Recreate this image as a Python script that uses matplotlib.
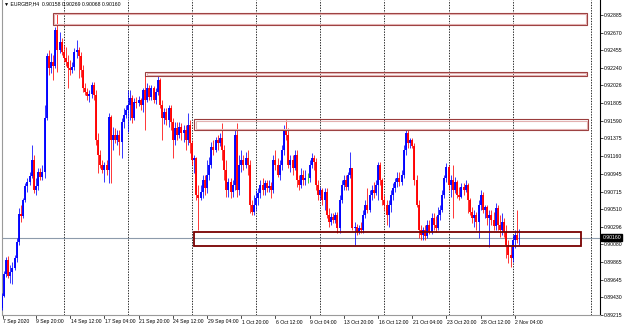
import numpy as np
import matplotlib.pyplot as plt
import matplotlib.transforms as mtransforms
from matplotlib.patches import Rectangle

# ------------------------------------------------------------------
# EURGBP H4 candles (price x 10^4), bar 0 = 7 Sep 2020 00:00
# ------------------------------------------------------------------
symbol = "EURGBP,H4"

opens = [
    8925, 8930, 8945, 8972, 8989, 8969, 8974, 8979, 8991, 9011,
    9045, 9043, 9062, 9079, 9084, 9092, 9111, 9074, 9079, 9096,
    9090, 9096, 9162, 9238, 9224, 9231, 9226, 9270, 9246, 9255,
    9243, 9236, 9231, 9224, 9221, 9225, 9243, 9246, 9238, 9221,
    9199, 9194, 9189, 9192, 9203, 9191, 9136, 9117, 9105, 9099,
    9105, 9099, 9164, 9136, 9142, 9136, 9142, 9133, 9158, 9166,
    9172, 9178, 9187, 9162, 9182, 9181, 9185, 9178, 9197, 9185,
    9199, 9188, 9199, 9185, 9194, 9209, 9178, 9162, 9170, 9160,
    9175, 9158, 9136, 9150, 9142, 9151, 9144, 9148, 9136, 9154,
    9132, 9111, 9114, 9068, 9065, 9072, 9087, 9077, 9093, 9105,
    9127, 9123, 9136, 9132, 9138, 9123, 9099, 9074, 9084, 9072,
    9081, 9142, 9074, 9105, 9111, 9105, 9114, 9105, 9056, 9047,
    9056, 9065, 9071, 9081, 9074, 9083, 9077, 9079, 9074, 9111,
    9105, 9093, 9105, 9123, 9148, 9142, 9105, 9111, 9101, 9117,
    9087, 9081, 9093, 9087, 9089, 9089, 9105, 9114, 9109, 9081,
    9068, 9074, 9062, 9072, 9044, 9035, 9041, 9038, 9044, 9028,
    9062, 9081, 9087, 9078, 9093, 9101, 9028, 9029, 9023, 9028,
    9025, 9044, 9056, 9050, 9068, 9074, 9071, 9081, 9105, 9087,
    9062, 9056, 9044, 9056, 9068, 9077, 9084, 9089, 9084, 9093,
    9123, 9144, 9132, 9136, 9128, 9087, 9056, 9025, 9019, 9025,
    9018, 9031, 9023, 9040, 9031, 9028, 9044, 9050, 9068, 9089,
    9103, 9081, 9087, 9074, 9084, 9068, 9066, 9078, 9074, 9081,
    9062, 9047, 9040, 9044, 9035, 9056, 9068, 9050, 9054, 9040,
    9044, 9038, 9030, 9052, 9031, 9025, 9035, 9023, 9007, 8995,
    8991, 9013, 9019, 9015.8,
]
highs = [
    8934, 8948, 8975, 8992, 8994, 8983, 8986, 8995, 9016, 9052,
    9056, 9065, 9083, 9089, 9096, 9129, 9117, 9089, 9101, 9101,
    9105, 9178, 9242, 9246, 9242, 9240, 9274, 9291, 9268, 9260,
    9252, 9249, 9240, 9233, 9231, 9248, 9258, 9249, 9243, 9227,
    9205, 9199, 9197, 9207, 9207, 9197, 9144, 9123, 9111, 9109,
    9111, 9169, 9166, 9151, 9150, 9148, 9148, 9162, 9175, 9178,
    9197, 9197, 9191, 9187, 9188, 9189, 9187, 9199, 9218, 9205,
    9203, 9203, 9202, 9199, 9214, 9211, 9185, 9175, 9175, 9178,
    9178, 9162, 9158, 9158, 9158, 9156, 9154, 9154, 9169, 9160,
    9136, 9117, 9115, 9081, 9081, 9093, 9093, 9111, 9115, 9133,
    9136, 9139, 9142, 9144, 9156, 9129, 9111, 9089, 9089, 9087,
    9148, 9156, 9117, 9123, 9117, 9121, 9123, 9111, 9062, 9068,
    9074, 9077, 9087, 9089, 9087, 9087, 9087, 9084, 9117, 9123,
    9114, 9111, 9129, 9154, 9160, 9150, 9117, 9117, 9123, 9123,
    9093, 9101, 9099, 9099, 9095, 9111, 9120, 9117, 9114, 9087,
    9078, 9077, 9077, 9077, 9052, 9046, 9046, 9047, 9047, 9068,
    9087, 9093, 9093, 9096, 9121, 9101, 9035, 9033, 9031, 9035,
    9050, 9062, 9077, 9074, 9081, 9084, 9087, 9109, 9109, 9089,
    9068, 9062, 9062, 9074, 9083, 9089, 9096, 9096, 9099, 9129,
    9148, 9148, 9138, 9138, 9132, 9093, 9062, 9031, 9029, 9031,
    9038, 9038, 9046, 9046, 9043, 9054, 9056, 9074, 9093, 9107,
    9105, 9093, 9105, 9090, 9087, 9078, 9083, 9083, 9087, 9083,
    9065, 9054, 9050, 9047, 9062, 9074, 9072, 9056, 9056, 9050,
    9050, 9047, 9058, 9056, 9044, 9046, 9040, 9031, 9013, 9007,
    9019, 9025, 9050, 9026.9,
]
lows = [
    8923, 8927, 8943, 8968, 8967, 8960, 8959, 8976, 8986, 9007,
    9035, 9040, 9060, 9072, 9081, 9089, 9071, 9068, 9074, 9087,
    9087, 9089, 9160, 9215, 9218, 9209, 9224, 9219, 9242, 9240,
    9231, 9226, 9199, 9215, 9218, 9221, 9236, 9211, 9213, 9194,
    9191, 9185, 9182, 9187, 9185, 9129, 9095, 9101, 9095, 9084,
    9093, 9083, 9083, 9123, 9132, 9129, 9117, 9114, 9150, 9162,
    9145, 9160, 9156, 9160, 9175, 9177, 9172, 9170, 9148, 9182,
    9185, 9185, 9181, 9180, 9191, 9175, 9136, 9155, 9154, 9151,
    9148, 9114, 9129, 9136, 9138, 9136, 9133, 9123, 9129, 9120,
    9105, 9095, 9062, 9025, 9062, 9065, 9068, 9071, 9087, 9101,
    9117, 9121, 9123, 9128, 9111, 9087, 9066, 9066, 9065, 9066,
    9074, 9066, 9068, 9096, 9099, 9101, 9093, 9046, 9044, 9044,
    9050, 9056, 9065, 9068, 9068, 9072, 9072, 9065, 9071, 9099,
    9090, 9087, 9099, 9117, 9136, 9101, 9096, 9093, 9099, 9078,
    9074, 9077, 9081, 9081, 9083, 9084, 9101, 9099, 9074, 9062,
    9062, 9056, 9050, 9040, 9029, 9031, 9034, 9034, 9022, 9022,
    9058, 9074, 9074, 9074, 9089, 9025, 9007, 9019, 9020, 9022,
    9022, 9040, 9046, 9047, 9062, 9065, 9068, 9062, 9081, 9056,
    9050, 9031, 9029, 9047, 9062, 9072, 9078, 9079, 9081, 9089,
    9117, 9126, 9126, 9126, 9081, 9054, 9016, 9013, 9013, 9013,
    9016, 9020, 9020, 9025, 9023, 9025, 9038, 9047, 9065, 9084,
    9074, 9066, 9040, 9071, 9065, 9062, 9065, 9068, 9072, 9046,
    9044, 9034, 9029, 9025, 9016, 9050, 9046, 9040, 9031, 9005,
    9031, 9025, 9025, 9025, 9017, 9019, 9017, 8991, 8985, 8980,
    8986, 9003, 9010, 9006.8,
]
closes = [
    8930, 8945, 8972, 8989, 8969, 8974, 8979, 8991, 9011, 9045,
    9043, 9062, 9079, 9084, 9092, 9111, 9074, 9079, 9096, 9090,
    9096, 9162, 9238, 9224, 9231, 9226, 9270, 9246, 9255, 9243,
    9236, 9231, 9224, 9221, 9225, 9243, 9246, 9238, 9221, 9199,
    9194, 9189, 9192, 9203, 9191, 9136, 9117, 9105, 9099, 9105,
    9099, 9164, 9136, 9142, 9136, 9142, 9133, 9158, 9166, 9172,
    9178, 9187, 9162, 9182, 9181, 9185, 9178, 9197, 9185, 9199,
    9188, 9199, 9185, 9194, 9209, 9178, 9162, 9170, 9160, 9175,
    9158, 9136, 9150, 9142, 9151, 9144, 9148, 9136, 9154, 9132,
    9111, 9114, 9068, 9065, 9072, 9087, 9077, 9093, 9105, 9127,
    9123, 9136, 9132, 9138, 9123, 9099, 9074, 9084, 9072, 9081,
    9142, 9074, 9105, 9111, 9105, 9114, 9105, 9056, 9047, 9056,
    9065, 9071, 9081, 9074, 9083, 9077, 9079, 9074, 9111, 9105,
    9093, 9105, 9123, 9148, 9142, 9105, 9111, 9101, 9117, 9087,
    9081, 9093, 9087, 9089, 9089, 9105, 9114, 9109, 9081, 9068,
    9074, 9062, 9072, 9044, 9035, 9041, 9038, 9044, 9028, 9062,
    9081, 9087, 9078, 9093, 9101, 9028, 9029, 9023, 9028, 9025,
    9044, 9056, 9050, 9068, 9074, 9071, 9081, 9105, 9087, 9062,
    9056, 9044, 9056, 9068, 9077, 9084, 9089, 9084, 9093, 9123,
    9144, 9132, 9136, 9128, 9087, 9056, 9025, 9019, 9025, 9018,
    9031, 9023, 9040, 9031, 9028, 9044, 9050, 9068, 9089, 9103,
    9081, 9087, 9074, 9084, 9068, 9066, 9078, 9074, 9081, 9062,
    9047, 9040, 9044, 9035, 9056, 9068, 9050, 9054, 9040, 9044,
    9038, 9030, 9052, 9031, 9025, 9035, 9023, 9007, 8995, 8991,
    9013, 9019, 9013, 9016.0,
]

date_labels = ["7 Sep 2020", "9 Sep 20:00", "14 Sep 12:00", "17 Sep 04:00",
               "21 Sep 20:00", "24 Sep 12:00", "29 Sep 04:00", "1 Oct 20:00",
               "6 Oct 12:00", "9 Oct 04:00", "13 Oct 20:00", "16 Oct 12:00",
               "21 Oct 04:00", "23 Oct 20:00", "28 Oct 12:00", "2 Nov 04:00"]
date_bars = [0, 17, 33, 49, 65, 81, 97, 113, 129, 145, 161, 177, 193, 209, 225, 241]
week_starts = [30, 60, 90, 120, 150, 180, 210, 240, 276.6]

price_ticks = [0.92885, 0.92670, 0.92455, 0.92240, 0.92026, 0.91805, 0.91590,
               0.91375, 0.91160, 0.90945, 0.90715, 0.90510, 0.90296, 0.90080,
               0.89865, 0.89645, 0.89430, 0.89215]

# drawn rectangles (bar index span, price span)
zone_start = [25.0, 68.1, 91.0, 91.0]
zone_end = [274.7, 274.7, 275.2, 271.9]
zone_top = [0.92914, 0.92191, 0.91609, 0.90226]
zone_bottom = [0.92759, 0.92139, 0.91474, 0.90062]

# ------------------------------------------------------------------
o = np.array(opens) / 1e4
h = np.array(highs) / 1e4
l = np.array(lows) / 1e4
c = np.array(closes) / 1e4
x = np.arange(len(c))

plt.rcParams['font.family'] = ['Liberation Sans', 'DejaVu Sans']
FS = 3.7

fig = plt.figure(figsize=(6.25, 3.29), dpi=100)
ax = fig.add_axes([2 / 625, 14 / 329, 598 / 625, 315 / 329])
x0, x1 = 1.1, 280.8
y0, y1 = 0.89213, 0.93069
ax.set_xlim(x0, x1)
ax.set_ylim(y0, y1)
px_x = (x1 - x0) / 598   # one pixel in bar units
px_y = (y1 - y0) / 315   # one pixel in price units

# weekly separators
for b in week_starts:
    ax.axvline(b, color='black', lw=0.6, ls=(0, (1.6, 1.6)), zorder=1)

# bid line
ax.axhline(c[-1], color='#8d9bab', lw=0.8, zorder=1)

# candles
up = c > o
down = c < o
cols = np.where(up, '#0000ff', np.where(down, '#ff0000', '#00c000'))
ax.vlines(x, l, h, colors=cols, lw=0.55, zorder=3)
ax.vlines(x, np.minimum(o, c), np.maximum(o, c), colors=cols, lw=1.35, zorder=3)

# rectangles: dark outline with a pale inner stroke, last one heavier
for i in range(4):
    w = zone_end[i] - zone_start[i]
    hgt = zone_top[i] - zone_bottom[i]
    if i < 3:
        ax.add_patch(Rectangle((zone_start[i], zone_bottom[i]), w, hgt, fill=False,
                               edgecolor='#9a3c3c', lw=0.8, zorder=4))
        ax.add_patch(Rectangle((zone_start[i] + 1.3 * px_x, zone_bottom[i] + 1.3 * px_y),
                               w - 2.6 * px_x, hgt - 2.6 * px_y, fill=False,
                               edgecolor='#e2b0b0', lw=0.8, zorder=4))
    else:
        ax.add_patch(Rectangle((zone_start[i], zone_bottom[i]), w, hgt, fill=False,
                               edgecolor='#780000', lw=1.3, zorder=4))

# axes frame
ax.spines['top'].set_visible(False)
ax.spines['left'].set_color('#9a9a9a')
ax.spines['bottom'].set_color('#9a9a9a')
ax.spines['right'].set_color('black')
for s in ax.spines.values():
    s.set_linewidth(0.8)

ax.yaxis.tick_right()
ax.set_yticks(price_ticks)
ax.set_yticklabels([f"{v:.5f}" for v in price_ticks])
ax.tick_params(axis='y', length=2, width=0.5, pad=1, labelsize=FS)
ax.set_xticks([])

# time labels
blend = mtransforms.blended_transform_factory(ax.transData, ax.transAxes)
for b, lab in zip(date_bars, date_labels):
    bx = max(b, x0 + 0.3)
    ax.plot([bx, bx], [0, -3 / 315], transform=blend, color='black', lw=0.5, clip_on=False)
    ax.annotate(lab, (bx, 0), xycoords=blend, xytext=(0.5, -7), textcoords='offset pixels',
                fontsize=FS, ha='left', va='center')

# current price tag
yblend = mtransforms.blended_transform_factory(ax.transAxes, ax.transData)
ax.text(1.004, c[-1], f"{c[-1]:.5f}", transform=yblend, fontsize=FS, color='white',
        ha='left', va='center',
        bbox=dict(boxstyle='square,pad=0.2', fc='black', ec='black'))

# header
header = f"\u25bc {symbol}  {o[-1]:.5f} {h[-1]:.5f} {l[-1]:.5f} {c[-1]:.5f}"
ax.text(0.004, 0.987, header, transform=ax.transAxes, fontsize=FS, ha='left', va='center')

fig.savefig('out.png', dpi=100)
